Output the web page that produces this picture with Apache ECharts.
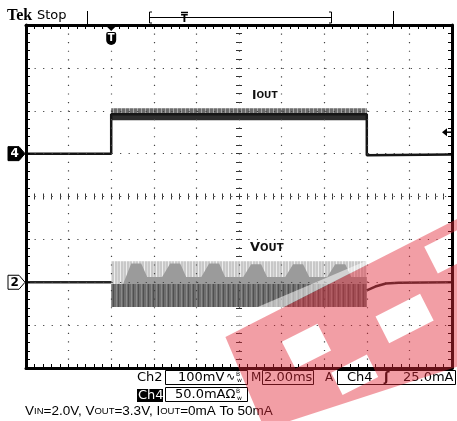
<!DOCTYPE html>
<html><head><meta charset="utf-8">
<script src="https://cdn.jsdelivr.net/npm/echarts@6/dist/echarts.min.js"></script>
<style>html,body{margin:0;padding:0;background:#fff;overflow:hidden}#c{width:457px;height:421px}</style>
</head><body><div id="c"></div>
<script>
// ---------------- data ----------------
// time in ms relative to trigger, 2.00 ms/div, 10 div
const timeMin = -4, timeMax = 16;
// Ch4 : IOUT in mA, 50.0 mA/div (ground 1 div above centre)
const ioutT = [-4, 0, 0, 12, 12, 16];
const ioutV = [0, 0, 46, 46, -2, -1];
const ioutBandT = [0, 12];
const ioutCoreLo = [39, 39];
const ioutCoreHi = [47, 47];
const ioutHairHi = [53, 53];
const ioutTrigLevel = 25;
// Ch2 : VOUT ripple in mV, 100 mV/div (ground 2 div below centre)
const voutPreT = [-4, 0];
const voutPreV = [0, 0];
const voutPostT = [12, 12.4, 12.9, 13.5, 16];
const voutPostV = [-19, -10, -3, -1, 0];
const voutBurstT = [0, 12];
const voutBurstLo = [-58, -58];
const voutBurstHi = [49, 49];
const voutDenseHi = [-4, -4];
const voutHumpT = [0, 0.56, 0.94, 1.41, 1.69, 2.39, 2.77, 3.24, 3.52, 4.23, 4.60, 5.07, 5.35, 6.20, 6.57, 7.04, 7.32, 8.17, 8.54, 9.01, 9.30, 10.14, 10.52, 10.99, 11.27, 12];
const voutHumpHi = [-4, -4, 44, 44, 12, 12, 44, 44, 12, 12, 44, 44, 12, 12, 42, 42, 12, 12, 42, 42, 12, 12, 42, 42, 12, 12];
// readouts
const ch2Scale = '100mV', ch4Scale = '50.0mA', timeBase = '2.00ms', trigSrc = 'Ch4', trigLevelText = '25.0mA';
const labelIout = ['I', 'OUT'], labelVout = ['V', 'OUT'];

// ---------------- styles ----------------
function pattern(w, h, base, cols) {
  const c = document.createElement('canvas'); c.width = w; c.height = h;
  const g = c.getContext('2d'); g.fillStyle = base; g.fillRect(0, 0, w, h);
  cols.forEach(function (cc) { g.fillStyle = cc[1]; g.fillRect(cc[0], 0, 1, h); });
  return {image: c, repeat: 'repeat'};
}
const lightFill = pattern(6, 4, '#c8c8c8', [[0, '#ededed'], [3, '#dadada']]);
const darkFill = pattern(5, 3, '#6e6e6e', [[1, '#8a8a8a'], [3, '#505050']]);
const hairFill = pattern(4, 4, '#6c6c6c', [[1, '#a8a8a8']]);
const dotted = {color: '#444', width: 1.2, type: [1.2, 7.35]};

function borderAxis(pos, isX) {
  return {type: 'value', min: isX ? 0 : -4, max: isX ? 10 : 4, interval: 1, position: pos, z: 10,
    axisLine: {show: true, onZero: false, lineStyle: {color: '#000', width: 3}},
    axisTick: {show: true, inside: true, length: 4, lineStyle: {color: '#000', width: 1}},
    minorTick: {show: true, splitNumber: 5, length: 4, lineStyle: {color: '#000', width: 1}},
    axisLabel: {show: false},
    splitLine: {show: pos === 'bottom' || pos === 'left', lineStyle: dotted}};
}
function centreAxis(isX, inside) {
  return {type: 'value', min: isX ? 0 : -4, max: isX ? 10 : 4, interval: 1,
    position: isX ? 'bottom' : 'left', offset: isX ? -171.5 : -213,
    axisLine: {show: false, onZero: false},
    axisTick: {show: true, inside: inside, length: 3, lineStyle: {color: '#333', width: 1}},
    minorTick: {show: true, splitNumber: 5, length: 3, lineStyle: {color: '#333', width: 1}},
    axisLabel: {show: false}, splitLine: {show: false}};
}
function band(xi, yi, topT, topV, botT, botV, fill, z) {
  return {type: 'custom', xAxisIndex: xi, yAxisIndex: yi, z: z, silent: true, clip: true,
    data: [[topT[0], topV[0]]], encode: {x: 0, y: 1},
    renderItem: function (params, api) {
      const pts = [];
      for (let i = 0; i < topT.length; i++) pts.push(api.coord([topT[i], topV[i]]));
      for (let i = botT.length - 1; i >= 0; i--) pts.push(api.coord([botT[i], botV[i]]));
      return {type: 'polygon', shape: {points: pts}, style: {fill: fill}};
    }};
}
function zip(a, b) { return a.map(function (v, i) { return [v, b[i]]; }); }
function line(xi, yi, t, v, color, w, z) {
  return {type: 'line', xAxisIndex: xi, yAxisIndex: yi, data: zip(t, v), symbol: 'none', z: z,
    lineStyle: {color: color, width: w}, silent: true, animation: false};
}
// watermark (decoration) in local rotated coordinates
const wmPath = 'M-13 0 L330 0 L330 140 L200 135 L-20 100 Z ' +
  'M35 30 L35 60 L75 60 L75 30 Z M130 50 L130 80 L180 80 L180 50 Z ' +
  'M205 10 L205 40 L245 40 L245 10 Z M65 80 L65 105 L105 105 L105 80 Z';
const watermark = {type: 'custom', coordinateSystem: 'none', z: 80, silent: true, data: [0],
  renderItem: function () {
    return {type: 'group', x: 237, y: 331, rotation: 27 * Math.PI / 180, children: [
      {type: 'polygon', shape: {points: [[0, -14], [160, -3], [160, 0], [0, 0]]}, style: {fill: 'rgba(255,255,255,0.55)'}},
      {type: 'path', shape: {pathData: wmPath, x: -20, y: 0, width: 350, height: 140, layout: 'cover'},
        style: {fill: 'rgba(226,40,56,0.45)'}}
    ]};
  }};

const chart = echarts.init(document.getElementById('c'), null, {renderer: 'canvas'});
chart.setOption({
  animation: false,
  backgroundColor: '#fff',
  grid: {left: 26, top: 25, width: 426, height: 343, containLabel: false, outerBoundsMode: 'none'},
  xAxis: [borderAxis('bottom', true), borderAxis('top', true), centreAxis(true, true), centreAxis(true, false),
    {type: 'value', min: timeMin, max: timeMax, show: false}],
  yAxis: [borderAxis('left', false), borderAxis('right', false), centreAxis(false, true), centreAxis(false, false),
    {type: 'value', min: -250, max: 150, show: false},
    {type: 'value', min: -200, max: 600, show: false}],
  series: [
    band(4, 5, voutBurstT, voutBurstHi, voutBurstT, voutBurstLo, lightFill, 3),
    band(4, 5, voutHumpT, voutHumpHi, voutBurstT, voutBurstLo, '#9b9b9b', 4),
    band(4, 5, voutBurstT, voutDenseHi, voutBurstT, voutBurstLo, darkFill, 5),
    line(4, 5, voutPreT, voutPreV, '#262626', 2.5, 6),
    line(4, 5, voutPostT, voutPostV, '#262626', 2.5, 6),
    band(4, 4, ioutBandT, ioutHairHi, ioutBandT, ioutCoreHi, hairFill, 3),
    band(4, 4, ioutBandT, ioutCoreHi, ioutBandT, ioutCoreLo, '#2e2e2e', 4),
    line(4, 4, ioutT, ioutV, '#151515', 2.5, 6),
    watermark
  ]
});

// ---------------- annotations ----------------
const yI0 = chart.convertToPixel({yAxisIndex: 4}, 0);
const yV0 = chart.convertToPixel({yAxisIndex: 5}, 0);
const yTrig = chart.convertToPixel({yAxisIndex: 4}, ioutTrigLevel);
const xT0 = chart.convertToPixel({xAxisIndex: 4}, 0);
const SANS = '"DejaVu Sans", sans-serif';
function T(x, y, text, font, fill, extra) {
  const s = {text: text, font: font, fill: fill || '#000', verticalAlign: 'middle', textAlign: 'left'};
  if (extra) Object.assign(s, extra);
  return {type: 'text', x: x, y: y, z: 50, style: s, silent: true};
}
function L(x1, y1, x2, y2, w) {
  return {type: 'line', z: 50, shape: {x1: x1, y1: y1, x2: x2, y2: y2}, style: {stroke: '#000', lineWidth: w || 1}, silent: true};
}
function R(x, y, w, h, fill, stroke) {
  return {type: 'rect', z: 50, shape: {x: x, y: y, width: w, height: h}, style: {fill: fill || 'none', stroke: stroke || null, lineWidth: 1}, silent: true};
}
function marker(y, dark, label) {
  return [{type: 'polygon', z: 50, shape: {points: [[8, y - 7], [19, y - 7], [25, y], [19, y + 7], [8, y + 7]]},
      style: {fill: dark ? '#000' : '#fff', stroke: '#000', lineWidth: 1}},
    T(10.5, y + 0.5, label, 'bold 12px ' + SANS, dark ? '#fff' : '#000')];
}

const g = [
  T(7, 16, 'Tek', 'bold 16px "Liberation Serif", serif'),
  T(37, 16, 'Stop', '13px ' + SANS),
  L(87.5, 11, 87.5, 25), L(393.5, 11, 393.5, 25),
  L(149.5, 12, 149.5, 23), L(149.5, 12, 152, 12), L(149.5, 23, 152, 23),
  L(149.5, 17.5, 331.5, 17.5),
  L(331.5, 12, 331.5, 23), L(329, 12, 331.5, 12), L(329, 23, 331.5, 23),
  L(181, 12.5, 188, 12.5, 1.5),
  T(184.5, 19, 'T', 'bold 10px ' + SANS, '#000', {textAlign: 'center'}),
  {type: 'polygon', z: 50, shape: {points: [[xT0 - 5, 26], [xT0 + 5, 26], [xT0, 31]]}, style: {fill: '#000'}},
  {type: 'rect', z: 50, shape: {x: xT0 - 5, y: 32, width: 10, height: 13, r: [2, 2, 5, 5]}, style: {fill: '#000'}},
  T(xT0, 38.5, 'T', 'bold 10px ' + SANS, '#fff', {textAlign: 'center'}),
  {type: 'polygon', z: 50, shape: {points: [[442, yTrig], [447, yTrig - 4], [447, yTrig + 4]]}, style: {fill: '#000'}},
  L(446, yTrig, 451, yTrig, 1.5),
  {type: 'text', x: 252, y: 96, z: 50, style: {text: '{a|' + labelIout[0] + '}{b|' + labelIout[1] + '}', verticalAlign: 'middle',
    rich: {a: {font: 'bold 12px ' + SANS, fill: '#111'}, b: {font: 'bold 9px ' + SANS, fill: '#111'}}}},
  {type: 'text', x: 250, y: 248, z: 50, style: {text: '{a|' + labelVout[0] + '}{b|' + labelVout[1] + '}', verticalAlign: 'middle',
    rich: {a: {font: 'bold 13px ' + SANS, fill: '#111'}, b: {font: 'bold 10px ' + SANS, fill: '#111'}}}},
  // readouts
  T(137, 377.5, 'Ch2', '13px ' + SANS),
  R(165.5, 370.5, 82, 14, null, '#000'),
  T(178, 377.5, ch2Scale, '13px ' + SANS),
  T(226, 377, '∿', '11px ' + SANS),
  T(236, 374, 'B', '6px ' + SANS), T(237, 380.5, 'w', '6px ' + SANS),
  T(251, 377.5, 'M', '12px ' + SANS),
  R(262.5, 370.5, 51, 14, null, '#000'),
  T(264, 377.5, timeBase, '13px ' + SANS),
  T(325, 377.5, 'A', '12px ' + SANS),
  R(337.5, 370.5, 118, 14, null, '#000'),
  T(347, 377.5, trigSrc, '13px ' + SANS),
  T(384, 377.5, 'ʃ', 'bold 13px ' + SANS),
  T(403, 377.5, trigLevelText, '13px ' + SANS),
  R(137, 389, 26, 13, '#000'),
  T(138, 395.5, 'Ch4', '13px ' + SANS, '#fff'),
  R(165.5, 387.5, 82, 14, null, '#000'),
  T(175, 395, ch4Scale + 'Ω', '13px ' + SANS),
  T(236, 391.5, 'B', '6px ' + SANS), T(237, 398, 'w', '6px ' + SANS),
  {type: 'text', x: 25, y: 411, z: 50, style: {verticalAlign: 'middle',
    text: '{n|V}{s|IN}{n|=2.0V, V}{s|OUT}{n|=3.3V, I}{s|OUT}{n|=0mA To 50mA}',
    rich: {n: {font: '13.5px "Liberation Sans", Arial, sans-serif', fill: '#000'},
           s: {font: '9.5px "Liberation Sans", Arial, sans-serif', fill: '#000'}}}}
];
marker(yI0, true, '4').concat(marker(yV0, false, '2')).forEach(function (e) { g.push(e); });
chart.setOption({graphic: g});
</script></body></html>
